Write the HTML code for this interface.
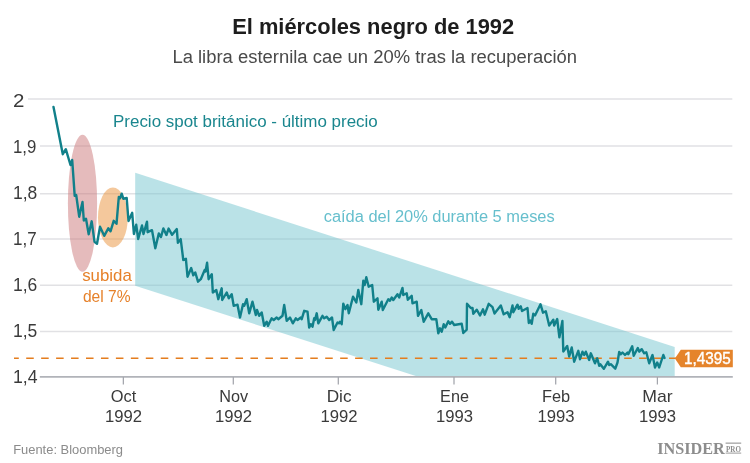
<!DOCTYPE html>
<html lang="es">
<head>
<meta charset="utf-8">
<title>El miércoles negro de 1992</title>
<style>
html,body{margin:0;padding:0;background:#fff;}
body{width:750px;height:463px;overflow:hidden;font-family:'Liberation Sans', Arial, sans-serif;}
svg{display:block;}
svg text{font-family:'Liberation Sans', Arial, sans-serif;}
</style>
</head>
<body>
<svg width="750" height="463" viewBox="0 0 750 463">
<rect x="0" y="0" width="750" height="463" fill="#ffffff"/>
<text x="232.2" y="33.8" font-size="22" font-weight="bold" fill="#1d1d1d" textLength="282" lengthAdjust="spacingAndGlyphs">El miércoles negro de 1992</text>
<text x="172.4" y="63" font-size="18" fill="#4a4a4a" textLength="404.6" lengthAdjust="spacingAndGlyphs">La libra esternila cae un 20% tras la recuperación</text>

<g stroke="#e1e1e4" stroke-width="1.45">
<line x1="28" y1="98.9" x2="732.3" y2="98.9"/>
<line x1="40" y1="146" x2="732.3" y2="146"/>
<line x1="40" y1="193.7" x2="732.3" y2="193.7"/>
<line x1="40" y1="239" x2="732.3" y2="239"/>
<line x1="40" y1="285.3" x2="732.3" y2="285.3"/>
<line x1="40" y1="331.5" x2="732.3" y2="331.5"/>
</g>
<polygon points="135.2,172.8 674.7,346.9 674.7,376.2 416.6,376.2 135.2,285.8" fill="rgb(117,197,207)" fill-opacity="0.5"/>
<g stroke="#a9cdd2" stroke-width="1.2" opacity="0.0">
</g>
<ellipse cx="82.5" cy="203.2" rx="14.6" ry="68.5" fill="rgb(203,119,121)" fill-opacity="0.5"/>
<ellipse cx="112.9" cy="217.4" rx="14.9" ry="30" fill="rgb(233,145,57)" fill-opacity="0.5"/>
<line x1="39.8" y1="376.9" x2="732.8" y2="376.9" stroke="#b1b3b9" stroke-width="1.6"/>
<g stroke="#a3a5ac" stroke-width="1.25">
<line x1="123.35" y1="377" x2="123.35" y2="384.5"/>
<line x1="233.3" y1="377" x2="233.3" y2="384.5"/>
<line x1="338.3" y1="377" x2="338.3" y2="384.5"/>
<line x1="454" y1="377" x2="454" y2="384.5"/>
<line x1="555.7" y1="377" x2="555.7" y2="384.5"/>
<line x1="657.4" y1="377" x2="657.4" y2="384.5"/>
</g>
<g font-size="19" fill="#3a3a3a">
<text x="13" y="107" textLength="11.4" lengthAdjust="spacingAndGlyphs">2</text>
<text x="13" y="152.8" textLength="23.3" lengthAdjust="spacingAndGlyphs">1,9</text>
<text x="13" y="198.8" textLength="24.3" lengthAdjust="spacingAndGlyphs">1,8</text>
<text x="13" y="244.8" textLength="23.6" lengthAdjust="spacingAndGlyphs">1,7</text>
<text x="13" y="290.6" textLength="24.3" lengthAdjust="spacingAndGlyphs">1,6</text>
<text x="13" y="337.2" textLength="24.3" lengthAdjust="spacingAndGlyphs">1,5</text>
<text x="13" y="382.8" textLength="24.6" lengthAdjust="spacingAndGlyphs">1,4</text>
</g>
<g font-size="17" fill="#3a3a3a" text-anchor="middle">
<text x="123.5" y="401.6" textLength="25.5" lengthAdjust="spacingAndGlyphs">Oct</text><text x="123.5" y="422.3" textLength="37.1" lengthAdjust="spacingAndGlyphs">1992</text>
<text x="233.6" y="401.6" textLength="28.9" lengthAdjust="spacingAndGlyphs">Nov</text><text x="233.6" y="422.3" textLength="37.1" lengthAdjust="spacingAndGlyphs">1992</text>
<text x="339.1" y="401.6" textLength="24.9" lengthAdjust="spacingAndGlyphs">Dic</text><text x="339.1" y="422.3" textLength="37.1" lengthAdjust="spacingAndGlyphs">1992</text>
<text x="454.5" y="401.6" textLength="28.9" lengthAdjust="spacingAndGlyphs">Ene</text><text x="454.5" y="422.3" textLength="37.1" lengthAdjust="spacingAndGlyphs">1993</text>
<text x="556" y="401.6" textLength="28.2" lengthAdjust="spacingAndGlyphs">Feb</text><text x="556" y="422.3" textLength="37.1" lengthAdjust="spacingAndGlyphs">1993</text>
<text x="657.5" y="401.6" textLength="30.4" lengthAdjust="spacingAndGlyphs">Mar</text><text x="657.5" y="422.3" textLength="37.1" lengthAdjust="spacingAndGlyphs">1993</text>
</g>
<line x1="14" y1="358.3" x2="676" y2="358.3" stroke="#e47d1e" stroke-width="1.5" stroke-dasharray="7.55,7.4" stroke-dashoffset="2.75"/>
<path d="M53.5,107.0 L62.8,154.2 L65.8,149.2 L70.5,165.0 L72.2,160.0 L74.7,195.8 L76.2,195.0 L79.2,216.7 L82.5,202.0 L83.8,220.5 L86.0,218.8 L88.7,234.2 L91.7,221.3 L94.5,241.7 L97.0,243.7 L100.0,226.7 L104.2,235.8 L108.3,228.3 L110.5,231.3 L113.7,220.8 L116.5,223.8 L118.8,197.0 L120.0,198.3 L121.7,193.7 L123.3,198.7 L126.7,198.0 L128.5,221.0 L132.2,212.8 L133.9,234.0 L136.2,224.7 L138.2,239.0 L142.0,225.5 L143.5,234.0 L147.0,221.7 L147.6,232.2 L152.0,230.2 L155.3,248.2 L158.8,233.5 L161.0,237.0 L163.4,228.4 L166.4,235.0 L168.6,228.6 L172.1,234.8 L176.8,229.1 L177.9,242.8 L180.7,239.1 L183.3,260.0 L185.9,258.8 L187.5,276.7 L191.2,268.0 L193.3,275.3 L195.3,272.5 L198.0,281.7 L200.8,279.2 L204.7,270.0 L205.5,271.5 L207.1,262.8 L208.6,279.2 L211.8,274.2 L212.8,292.5 L216.3,290.0 L218.3,299.2 L221.7,288.3 L222.2,300.0 L226.7,292.5 L228.8,298.3 L231.7,294.2 L233.7,305.8 L237.5,304.7 L240.0,317.5 L243.0,304.2 L244.2,305.8 L246.7,299.2 L249.2,313.3 L252.5,301.7 L255.8,315.0 L257.0,310.0 L259.2,315.8 L261.7,312.5 L264.2,325.8 L266.7,321.7 L268.0,325.8 L271.7,318.3 L273.7,320.0 L276.7,317.5 L278.3,319.2 L282.5,315.8 L284.2,305.0 L286.7,320.8 L290.0,317.5 L292.8,323.3 L295.8,318.3 L297.5,320.0 L300.8,317.5 L301.7,319.2 L304.2,310.8 L307.5,311.7 L309.2,327.5 L310.8,324.2 L312.5,326.7 L314.2,318.3 L315.0,320.0 L316.7,313.3 L318.3,323.3 L322.5,315.8 L324.2,318.3 L326.7,316.7 L329.2,320.0 L332.0,317.5 L333.7,330.0 L337.5,322.5 L339.2,323.3 L340.0,321.7 L341.7,324.2 L343.3,303.7 L345.3,309.2 L347.5,305.0 L348.8,313.3 L353.0,296.7 L356.3,302.5 L358.3,290.0 L361.3,304.2 L363.3,280.8 L364.7,285.0 L366.3,277.2 L368.7,286.7 L372.2,285.0 L373.8,301.7 L377.5,298.3 L378.3,309.7 L381.7,301.7 L382.8,310.0 L388.3,299.2 L390.0,300.8 L391.7,297.5 L393.3,300.0 L397.5,294.2 L399.2,297.5 L402.5,288.0 L403.3,295.0 L406.7,293.3 L407.8,299.7 L411.7,295.8 L412.5,303.3 L416.7,301.7 L418.0,315.8 L421.3,310.0 L423.7,321.7 L428.3,313.3 L431.7,319.2 L436.3,319.2 L438.3,333.3 L440.0,328.3 L441.7,331.7 L443.7,324.2 L445.3,327.5 L448.3,321.3 L450.0,323.8 L452.0,321.7 L454.2,325.0 L461.7,323.8 L463.3,333.0 L466.7,329.7 L467.0,303.8 L470.8,308.0 L472.5,308.0 L473.3,313.8 L476.7,309.7 L480.0,315.5 L483.0,309.3 L484.7,314.7 L488.7,303.8 L492.5,307.2 L494.5,313.5 L500.8,305.5 L503.7,314.3 L507.5,312.2 L509.7,317.2 L512.5,305.5 L513.3,312.2 L517.5,304.7 L518.7,308.8 L520.8,306.3 L522.0,311.0 L527.5,308.0 L528.8,323.0 L530.3,320.5 L531.7,323.8 L533.3,313.8 L535.0,315.5 L540.5,304.3 L543.0,312.7 L545.8,311.3 L549.2,325.5 L553.3,319.7 L554.2,325.5 L557.2,319.0 L559.4,337.3 L562.4,321.0 L563.3,351.5 L567.2,346.0 L569.2,356.5 L571.7,347.5 L574.2,361.7 L578.3,350.8 L580.0,359.2 L582.5,351.7 L584.2,355.0 L585.8,351.7 L589.2,360.0 L590.8,353.3 L595.0,363.3 L597.2,358.3 L599.2,365.8 L600.3,364.2 L603.8,368.8 L608.0,361.7 L609.2,365.0 L610.8,364.2 L615.3,368.7 L617.5,362.5 L619.2,352.0 L620.8,354.2 L622.5,352.5 L625.0,355.0 L627.5,352.5 L628.3,354.2 L632.2,346.3 L633.7,355.8 L637.8,348.0 L639.2,351.7 L641.7,349.2 L644.2,353.3 L646.3,352.2 L649.2,363.3 L652.5,355.0 L655.0,367.5 L657.2,362.5 L659.2,367.5 L663.3,355.0 L664.5,358.0" fill="none" stroke="#11808a" stroke-width="2.4" stroke-linejoin="round" stroke-linecap="round"/>
<polygon points="674.9,358.5 680.8,349.8 732.8,349.8 732.8,367.3 680.8,367.3" fill="#e5842b"/>
<text x="684.1" y="364" font-size="15.8" fill="#ffffff" stroke="#ffffff" stroke-width="0.4" textLength="46.8" lengthAdjust="spacingAndGlyphs">1,4395</text>
<text x="113" y="126.6" font-size="16" fill="#1a868e" textLength="264.8" lengthAdjust="spacingAndGlyphs">Precio spot británico - último precio</text>
<text x="323.7" y="221.5" font-size="16" fill="#66bfcd" textLength="231" lengthAdjust="spacingAndGlyphs">caída del 20% durante 5 meses</text>
<text x="82.2" y="280.9" font-size="17" fill="#e6812a" textLength="49.6" lengthAdjust="spacingAndGlyphs">subida</text>
<text x="82.9" y="301.5" font-size="16.8" fill="#e6812a" textLength="47.6" lengthAdjust="spacingAndGlyphs">del 7%</text>
<text x="13.2" y="453.5" font-size="13" fill="#8b8b8b" textLength="109.8" lengthAdjust="spacingAndGlyphs">Fuente: Bloomberg</text>
<text x="657.2" y="453.6" font-size="16.2" font-weight="bold" fill="#8d8d8d" style="font-family:'Liberation Serif', 'Times New Roman', serif" textLength="67.6" lengthAdjust="spacingAndGlyphs">INSIDER</text>
<rect x="725.6" y="442.4" width="15.6" height="1.6" fill="#b5b5b5"/>
<rect x="725.6" y="452.6" width="15.6" height="1" fill="#9a9a9a"/>
<text x="726" y="451.6" font-size="7.6" font-weight="bold" fill="#8d8d8d" style="font-family:'Liberation Serif', 'Times New Roman', serif" textLength="14.9" lengthAdjust="spacingAndGlyphs">PRO</text>
</svg>
</body>
</html>
